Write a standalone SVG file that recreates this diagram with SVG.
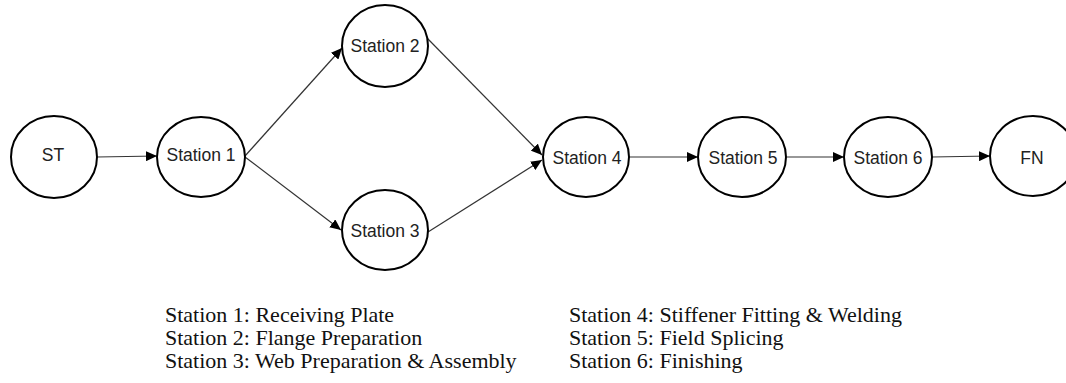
<svg xmlns="http://www.w3.org/2000/svg" width="1066" height="383" viewBox="0 0 1066 383">
<style>
.node{fill:#fff;stroke:#000;stroke-width:2}
.lbl{font-family:"Liberation Sans",Arial,sans-serif;font-size:17.5px;fill:#222;text-anchor:middle;dominant-baseline:central}
.edge{stroke:#333;stroke-width:1.2;fill:none;marker-end:url(#ah)}
.legend{font-family:"Liberation Serif","Times New Roman",serif;font-size:22px;fill:#111}
</style>
<defs>
<marker id="ah" markerUnits="userSpaceOnUse" markerWidth="12" markerHeight="10" refX="11" refY="5" orient="auto">
<path d="M0,0 L11,5 L0,10 z" fill="#000"/>
</marker>
</defs>
<rect width="1066" height="383" fill="#fff"/>
<g id="connectors">
<line class="edge" x1="97" y1="157" x2="157" y2="156"/>
<line class="edge" x1="245" y1="156" x2="342" y2="48"/>
<line class="edge" x1="245" y1="157" x2="341" y2="230"/>
<line class="edge" x1="427" y1="38" x2="542" y2="155"/>
<line class="edge" x1="428" y1="232" x2="542" y2="160"/>
<line class="edge" x1="629" y1="157" x2="698" y2="157"/>
<line class="edge" x1="787" y1="157" x2="844" y2="157"/>
<line class="edge" x1="932" y1="157" x2="990" y2="156"/>
</g>
<g id="ST"><ellipse class="node" cx="54" cy="157" rx="43" ry="41"/><text class="lbl" x="53" y="155">ST</text></g>
<g id="S1"><ellipse class="node" cx="201" cy="157" rx="44" ry="40"/><text class="lbl" x="201" y="155">Station 1</text></g>
<g id="S2"><ellipse class="node" cx="385" cy="46" rx="43" ry="41"/><text class="lbl" x="385" y="46">Station 2</text></g>
<g id="S3"><ellipse class="node" cx="385" cy="230" rx="43" ry="40"/><text class="lbl" x="385" y="231">Station 3</text></g>
<g id="S4"><ellipse class="node" cx="586" cy="157" rx="43" ry="40"/><text class="lbl" x="587" y="158">Station 4</text></g>
<g id="S5"><ellipse class="node" cx="742" cy="157" rx="44" ry="40"/><text class="lbl" x="743" y="158">Station 5</text></g>
<g id="S6"><ellipse class="node" cx="888" cy="157" rx="44" ry="40"/><text class="lbl" x="888" y="158">Station 6</text></g>
<g id="FN"><ellipse class="node" cx="1033" cy="156" rx="43" ry="40"/><text class="lbl" x="1032" y="158">FN</text></g>
<g id="legend">
<text class="legend" x="165" y="322">Station 1: Receiving Plate</text>
<text class="legend" x="165" y="345">Station 2: Flange Preparation</text>
<text class="legend" x="165" y="368">Station 3: Web Preparation &amp; Assembly</text>
<text class="legend" x="569" y="322">Station 4: Stiffener Fitting &amp; Welding</text>
<text class="legend" x="569" y="345">Station 5: Field Splicing</text>
<text class="legend" x="569" y="368">Station 6: Finishing</text>
</g>
</svg>
